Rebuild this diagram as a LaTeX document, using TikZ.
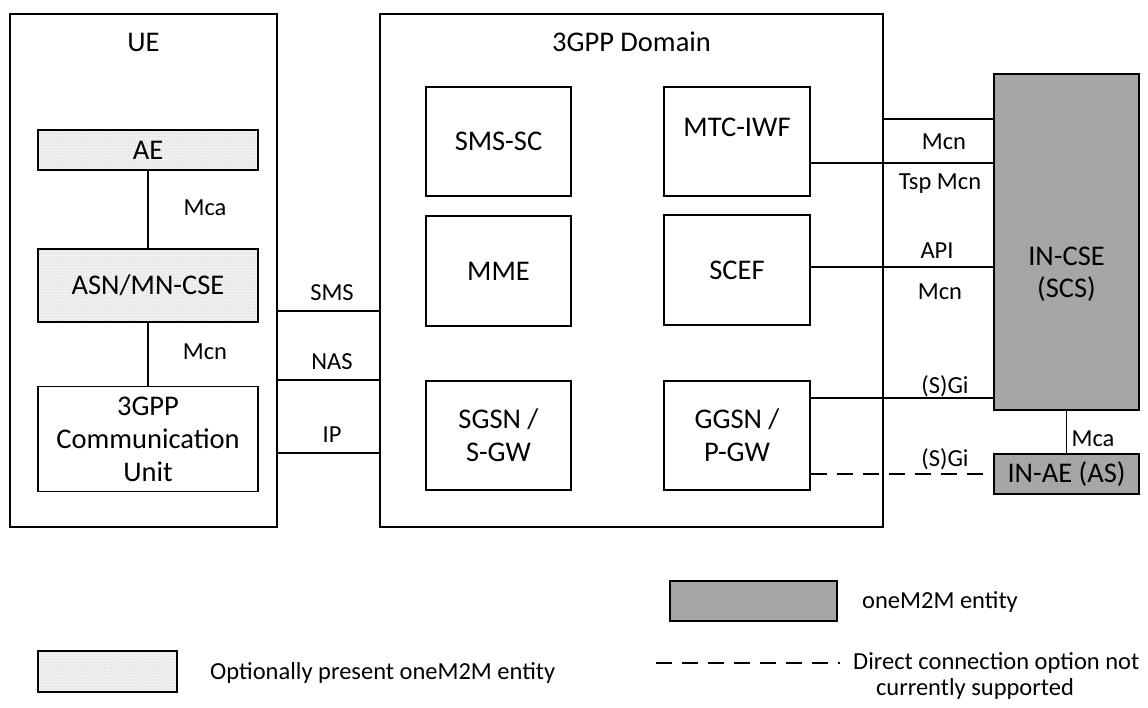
\documentclass[tikz,border=0pt]{standalone}
\usepackage{fontspec}
\setmainfont{Carlito}
\usetikzlibrary{patterns}
\definecolor{entgray}{HTML}{A6A6A6}
\tikzset{
  box/.style={draw=black, line width=1.3pt, fill=white, rectangle, inner sep=0pt, align=center,
    font=\fontsize{28.5}{33}\selectfont},
  optbox/.style={box, preaction={fill=gray!12}, pattern=dots, pattern color=gray!55},
  entbox/.style={box, fill=entgray},
  domainbox/.style={draw=black, line width=2.8pt, rectangle, inner sep=0pt},
  conn/.style={line width=1.3pt},
  dashconn/.style={line width=1.3pt, dash pattern=on 16pt off 10pt},
  lbl/.style={font=\fontsize{24.5}{28}\selectfont, inner sep=0pt},
  ttl/.style={font=\fontsize{28.5}{32}\selectfont, inner sep=0pt}
}
\begin{document}
\begin{tikzpicture}[x=1pt, y=-1pt]
\useasboundingbox (0,0) rectangle (1148,707);
% containers
\node[box, minimum width=267pt, minimum height=513pt] (ue) at (143.5,270.5) {};
\node[ttl] (uet) at (143.5,42) {UE};
\node[domainbox, minimum width=503pt, minimum height=513pt] (dom) at (631.5,270.5) {};
\node[ttl] (domt) at (631.5,42) {3GPP Domain};
% UE internals
\node[optbox, minimum width=220pt, minimum height=40pt] (ae) at (148,150) {AE};
\node[optbox, minimum width=220pt, minimum height=73pt] (asn) at (148,285.5) {ASN/MN-CSE};
\node[box, minimum width=220pt, minimum height=105pt] (cu) at (148,439) {3GPP\\Communication\\Unit};
% 3GPP domain internals
\node[box, minimum width=145pt, minimum height=109pt] (smssc) at (498.5,141.5) {SMS-SC};
\node[box, minimum width=145pt, minimum height=110pt] (mme) at (498.5,271) {MME};
\node[box, minimum width=145pt, minimum height=109pt] (sgsn) at (498.5,435.5) {SGSN /\\S-GW};
\node[box, minimum width=146pt, minimum height=109pt] (mtc) at (737,141.5) {};
\node[ttl] (mtct) at (737,127) {MTC-IWF};
\node[box, minimum width=146pt, minimum height=110pt] (scef) at (737,270) {SCEF};
\node[box, minimum width=146pt, minimum height=109pt] (ggsn) at (737,435.5) {GGSN /\\P-GW};
% oneM2M entities
\node[entbox, minimum width=145pt, minimum height=336pt] (incse) at (1066.5,242) {};
\node[ttl, align=center] (incset) at (1066.5,274) {IN-CSE\\(SCS)};
\node[entbox, minimum width=145pt, minimum height=40pt] (inae) at (1066.5,474) {IN-AE (AS)};
% connectors inside UE
\draw[conn] (ae.south) -- (asn.north);
\draw[conn] (asn.south) -- (cu.north);
\node[lbl] (lmca) at (205,208) {Mca};
\node[lbl] (lmcn) at (205,352) {Mcn};
% UE to domain
\draw[conn] (ue.east |- 0,311) -- (dom.west |- 0,311);
\draw[conn] (ue.east |- 0,380) -- (dom.west |- 0,380);
\draw[conn] (ue.east |- 0,453) -- (dom.west |- 0,453);
\node[lbl] (lsms) at (332,293) {SMS};
\node[lbl] (lnas) at (332,362) {NAS};
\node[lbl] (lip) at (332,435) {IP};
% domain to IN-CSE
\draw[conn] (dom.east |- 0,119) -- (incse.west |- 0,119);
\draw[conn] (mtc.east |- 0,163) -- (incse.west |- 0,163);
\draw[conn] (scef.east |- 0,267) -- (incse.west |- 0,267);
\draw[conn] (ggsn.east |- 0,398) -- (incse.west |- 0,398);
\draw[dashconn] (ggsn.east |- inae.west) -- (inae.west);
\draw[conn] (incse.south) -- (inae.north);
\node[lbl] (lmcn1) at (944,142) {Mcn};
\node[lbl] (ltsp) at (940,184) {Tsp Mcn};
\node[lbl] (lapi) at (937,251) {API};
\node[lbl] (lmcn2) at (940,292) {Mcn};
\node[lbl] (lsgi1) at (945,386) {(S)Gi};
\node[lbl] (lsgi2) at (945,459) {(S)Gi};
\node[lbl] (lmca2) at (1093,439) {Mca};
% legend
\node[optbox, minimum width=139pt, minimum height=41pt] (legopt) at (107.5,671.5) {};
\node[lbl, anchor=west] (legoptt) at (210,673) {Optionally present oneM2M entity};
\node[entbox, minimum width=167pt, minimum height=40pt] (legent) at (753.5,601) {};
\node[lbl, anchor=west] (legentt) at (862,602) {oneM2M entity};
\coordinate (dl1) at (656,663);
\coordinate (dl2) at (840,663);
\draw[dashconn] (dl1) -- (dl2);
\node[lbl, anchor=west] (legdash1) at (853,663) {Direct connection option not};
\node[lbl] (legdash2) at (975,689) {currently supported};
\end{tikzpicture}
\end{document}
